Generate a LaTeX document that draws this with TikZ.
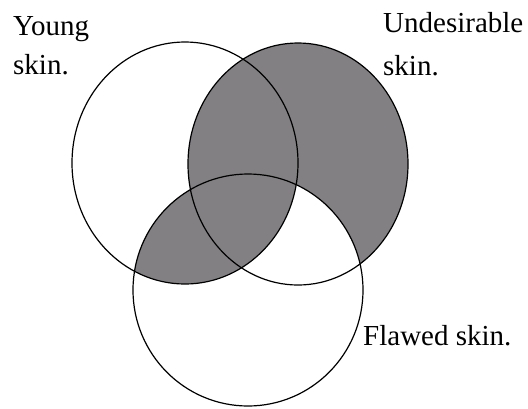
\documentclass[tikz,border=0pt]{standalone}
\usepackage{fontspec}
\setmainfont{Liberation Serif}
\definecolor{shadegray}{RGB}{130,128,131}
\tikzset{
  outline/.style={draw=black, line width=1.2pt},
  label/.style={anchor=base west, inner sep=0pt, font=\fontsize{29}{34}\selectfont}
}
\begin{document}
\begin{tikzpicture}[x=1pt,y=-1pt]
\useasboundingbox (0,0) rectangle (528,408);
\fill[white] (0,0) rectangle (528,408);
% shading
\fill[shadegray] (298,164) ellipse [x radius=110, y radius=121];
\begin{scope}
  \clip (185,163) ellipse [x radius=113, y radius=121];
  \fill[shadegray] (248,290) ellipse [x radius=115, y radius=116];
\end{scope}
\begin{scope}
  \clip (248,290) ellipse [x radius=115, y radius=116];
  \clip (298,164) ellipse [x radius=110, y radius=121];
  \fill[white] (0,0) rectangle (528,408);
  \fill[shadegray] (185,163) ellipse [x radius=113, y radius=121];
\end{scope}
% outlines
\draw[outline] (185,163) ellipse [x radius=113, y radius=121];
\draw[outline] (298,164) ellipse [x radius=110, y radius=121];
\draw[outline] (248,290) ellipse [x radius=115, y radius=116];
% labels
\node[label] (young1) at (13,35) {Young};
\node[label] (young2) at (13,74) {skin.};
\node[label] (und1) at (383,32) {Undesirable};
\node[label] (und2) at (383,75) {skin.};
\node[label] (flawed) at (363,345) {Flawed skin.};
\end{tikzpicture}
\end{document}
